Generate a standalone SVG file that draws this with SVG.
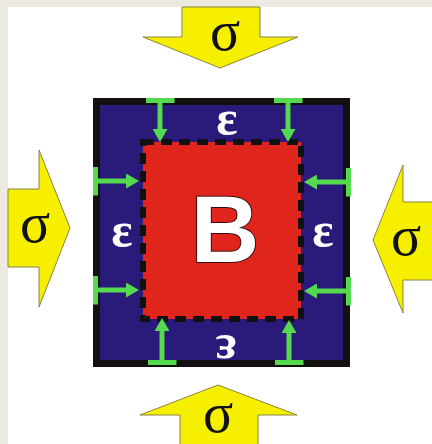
<svg xmlns="http://www.w3.org/2000/svg" width="432" height="444" viewBox="0 0 432 444">
<style>
.force{fill:#f7ef00;stroke:#8a8440;stroke-width:1}
.sig{font-family:"Liberation Serif","DejaVu Serif",serif;font-size:56px;fill:#111;text-anchor:middle}
.eps{font-family:"Liberation Serif","DejaVu Serif",serif;font-size:50px;font-weight:bold;fill:#fff;text-anchor:middle}
.g{stroke:#55d94f;stroke-width:5;fill:none}
</style>
<defs>
<marker id="head" markerUnits="userSpaceOnUse" viewBox="0 0 13 15" markerWidth="13" markerHeight="15" refX="0" refY="7.5" orient="auto">
<path d="M0,0 L13,7.5 L0,15 z" fill="#55d94f"/>
</marker>
<marker id="bar" markerUnits="userSpaceOnUse" viewBox="0 0 5 29" markerWidth="5" markerHeight="29" refX="0" refY="14.5" orient="auto">
<rect x="0" y="0" width="5" height="29" fill="#55d94f"/>
</marker>
</defs>
<rect x="0" y="0" width="432" height="444" fill="#ece9e1"/>
<rect x="8" y="7" width="424" height="437" fill="#ffffff"/>

<g id="force-top">
<polygon class="force" points="182,7 260,7 260,37 298,37 220,68 143,37 182,37"/>
<text class="sig" x="225" y="50">σ</text>
</g>
<g id="force-left">
<polygon class="force" points="8,189 39,189 39,150 70,228 39,307 39,267 8,267"/>
<text class="sig" x="35" y="242">σ</text>
</g>
<g id="force-right">
<polygon class="force" points="433,202 403,202 403,165 373,240 403,313 403,280 433,280"/>
<text class="sig" x="406" y="255">σ</text>
</g>
<g id="force-bottom">
<polygon class="force" points="180,445 180,415 140,415 218,385 297,415 258,415 258,445"/>
<text class="sig" x="218" y="432">σ</text>
</g>

<g id="matrix">
<rect x="96.5" y="101.5" width="250" height="262" fill="#2a1a7a" stroke="#141010" stroke-width="7"/>
<text class="eps" x="227" y="135">ε</text>
<text class="eps" x="122" y="247">ε</text>
<text class="eps" x="323" y="247">ε</text>
<text class="eps" transform="rotate(180 226 347)" x="226" y="359">ε</text>
</g>

<g id="body">
<rect x="143" y="142" width="158" height="177" fill="#e0261c" stroke="#111" stroke-width="6" stroke-dasharray="11 7"/>
<text x="225" y="262" font-family="'Liberation Sans',Arial,sans-serif" font-weight="bold" font-size="95" fill="#fff" stroke="#3a0a08" stroke-width="2" paint-order="stroke" text-anchor="middle">B</text>
</g>

<g id="connectors">
<line class="g" x1="160" y1="98" x2="160" y2="129" marker-start="url(#bar)" marker-end="url(#head)"/>
<line class="g" x1="288" y1="98" x2="288" y2="129" marker-start="url(#bar)" marker-end="url(#head)"/>
<line class="g" x1="162" y1="365" x2="162" y2="331" marker-start="url(#bar)" marker-end="url(#head)"/>
<line class="g" x1="289" y1="365" x2="289" y2="333" marker-start="url(#bar)" marker-end="url(#head)"/>
<line class="g" x1="93" y1="181" x2="126" y2="181" marker-start="url(#bar)" marker-end="url(#head)"/>
<line class="g" x1="93" y1="290" x2="126" y2="290" marker-start="url(#bar)" marker-end="url(#head)"/>
<line class="g" x1="351" y1="182" x2="317" y2="182" marker-start="url(#bar)" marker-end="url(#head)"/>
<line class="g" x1="351" y1="291" x2="317" y2="291" marker-start="url(#bar)" marker-end="url(#head)"/>
</g>
</svg>
